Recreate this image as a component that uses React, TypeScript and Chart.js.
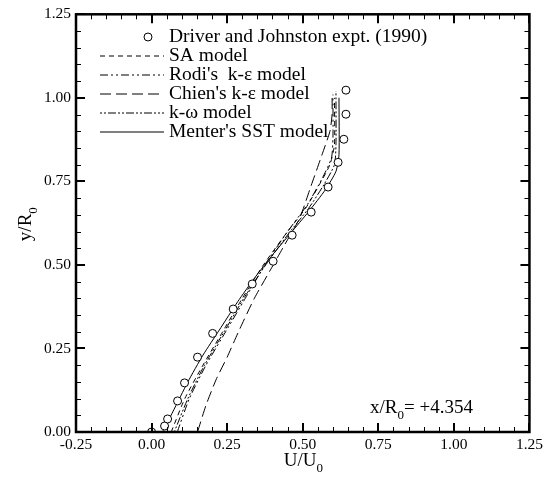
import React, { useEffect, useRef } from "react";
import { Chart, registerables } from "chart.js";

Chart.register(...registerables);

// Experimental data (Driver and Johnston, 1990)
const exptU = [0.0, 0.043, 0.053, 0.086, 0.109, 0.152, 0.202, 0.27, 0.333, 0.402, 0.465, 0.528, 0.584, 0.617, 0.636, 0.643, 0.643];
const exptY = [0.0, 0.018, 0.039, 0.093, 0.147, 0.224, 0.295, 0.368, 0.443, 0.511, 0.589, 0.658, 0.733, 0.807, 0.876, 0.951, 1.023];

// Model predictions
const saU = [0.065, 0.11, 0.17, 0.235, 0.3, 0.37, 0.45, 0.51, 0.555, 0.59, 0.605, 0.605];
const saY = [0.0, 0.1, 0.2, 0.3, 0.4, 0.5, 0.6, 0.67, 0.74, 0.8, 0.86, 1.0];

const rodiU = [0.085, 0.125, 0.18, 0.245, 0.31, 0.375, 0.45, 0.515, 0.565, 0.595, 0.6, 0.6];
const rodiY = [0.0, 0.1, 0.2, 0.3, 0.4, 0.5, 0.6, 0.68, 0.76, 0.82, 0.88, 1.01];

const chienU = [0.152, 0.18, 0.215, 0.25, 0.29, 0.34, 0.39, 0.44, 0.49, 0.525, 0.56, 0.59, 0.597, 0.597];
const chienY = [0.0, 0.08, 0.16, 0.224, 0.305, 0.4, 0.48, 0.56, 0.64, 0.73, 0.82, 0.9, 0.95, 1.015];

const kwU = [0.075, 0.12, 0.175, 0.24, 0.305, 0.37, 0.45, 0.52, 0.57, 0.605, 0.61, 0.61];
const kwY = [0.0, 0.1, 0.2, 0.3, 0.4, 0.49, 0.59, 0.67, 0.74, 0.8, 0.86, 1.02];

const sstU = [0.036, 0.07, 0.12, 0.17, 0.224, 0.285, 0.34, 0.4, 0.46, 0.52, 0.575, 0.61, 0.62, 0.62];
const sstY = [0.0, 0.06, 0.15, 0.23, 0.305, 0.39, 0.46, 0.53, 0.595, 0.66, 0.725, 0.78, 0.83, 1.0];

const legendLabels = [
  "Driver and Johnston expt. (1990)",
  "SA model",
  "Rodi's  k-\u03b5 model",
  "Chien's k-\u03b5 model",
  "k-\u03c9 model",
  "Menter's SST model",
];

const xTickValues = [-0.25, 0.0, 0.25, 0.5, 0.75, 1.0, 1.25];
const yTickValues = [0.0, 0.25, 0.5, 0.75, 1.0, 1.25];

const SERIF = "'Liberation Serif', 'DejaVu Serif', serif";

const pts = (u: number[], y: number[]) => u.map((v, i) => ({ x: v, y: y[i] }));

// Draw text with a subscript, e.g. "U/U" + "0", with an optional tail
function subText(ctx: CanvasRenderingContext2D, x: number, y: number, main: string, sub: string, size: number, tail = "") {
  ctx.font = `${size}px ${SERIF}`;
  ctx.fillText(main, x, y);
  let w = ctx.measureText(main).width;
  ctx.font = `${Math.round(size * 0.7)}px ${SERIF}`;
  ctx.fillText(sub, x + w, y + size * 0.3);
  w += ctx.measureText(sub).width;
  if (tail) {
    ctx.font = `${size}px ${SERIF}`;
    ctx.fillText(tail, x + w, y);
  }
}

const framePlugin = {
  id: "frame",
  afterDatasetsDraw(chart: any) {
    const { ctx, chartArea: a, scales } = chart;
    const xs = scales.x;
    const ys = scales.y;
    ctx.save();
    ctx.strokeStyle = "#000";
    ctx.fillStyle = "#000";

    // minor ticks every 0.05, pointing inward on all four sides
    ctx.lineWidth = 1;
    for (let i = 0; i <= 30; i++) {
      const v = -0.25 + i * 0.05;
      const px = Math.round(xs.getPixelForValue(v)) + 0.5;
      ctx.beginPath();
      ctx.moveTo(px, a.bottom);
      ctx.lineTo(px, a.bottom - 5);
      ctx.moveTo(px, a.top);
      ctx.lineTo(px, a.top + 5);
      ctx.stroke();
    }
    for (let i = 0; i <= 25; i++) {
      const v = i * 0.05;
      const py = Math.round(ys.getPixelForValue(v)) + 0.5;
      ctx.beginPath();
      ctx.moveTo(a.left, py);
      ctx.lineTo(a.left + 5, py);
      ctx.moveTo(a.right, py);
      ctx.lineTo(a.right - 5, py);
      ctx.stroke();
    }
    // major ticks
    ctx.lineWidth = 2;
    xTickValues.forEach((v) => {
      const px = Math.round(xs.getPixelForValue(v));
      ctx.beginPath();
      ctx.moveTo(px, a.bottom);
      ctx.lineTo(px, a.bottom - 9);
      ctx.moveTo(px, a.top);
      ctx.lineTo(px, a.top + 9);
      ctx.stroke();
    });
    yTickValues.forEach((v) => {
      const py = Math.round(ys.getPixelForValue(v));
      ctx.beginPath();
      ctx.moveTo(a.left, py);
      ctx.lineTo(a.left + 9, py);
      ctx.moveTo(a.right, py);
      ctx.lineTo(a.right - 9, py);
      ctx.stroke();
    });
    // frame
    ctx.lineWidth = 2.5;
    ctx.strokeRect(a.left, a.top, a.right - a.left, a.bottom - a.top);

    // axis titles
    ctx.textBaseline = "alphabetic";
    ctx.textAlign = "left";
    subText(ctx, (a.left + a.right) / 2 - 19, 466, "U/U", "0", 19);
    ctx.save();
    ctx.translate(31, (a.top + a.bottom) / 2 + 18);
    ctx.rotate(-Math.PI / 2);
    subText(ctx, 0, 0, "y/R", "0", 19);
    ctx.restore();

    // station annotation
    subText(ctx, 370, 413, "x/R", "0", 19, "= +4.354");

    // legend
    const ds = chart.data.datasets;
    const rowTop = 37;
    const rowGap = 19;
    const textX = 169;
    ctx.textBaseline = "middle";
    legendLabels.forEach((label, i) => {
      const yy = rowTop + i * rowGap;
      const d = ds[i];
      ctx.strokeStyle = "#000";
      ctx.lineWidth = 1;
      if (i === 0) {
        ctx.setLineDash([]);
        ctx.beginPath();
        ctx.arc(148, yy, 4, 0, Math.PI * 2);
        ctx.fillStyle = "#fff";
        ctx.fill();
        ctx.stroke();
      } else {
        ctx.setLineDash(d.borderDash || []);
        ctx.beginPath();
        ctx.moveTo(100, yy);
        ctx.lineTo(164, yy);
        ctx.stroke();
        ctx.setLineDash([]);
      }
      ctx.fillStyle = "#000";
      ctx.font = `19.5px ${SERIF}`;
      ctx.fillText(label, textX, yy);
    });
    ctx.restore();
  },
};

export default function App() {
  const canvasRef = useRef<HTMLCanvasElement | null>(null);

  useEffect(() => {
    const canvas = canvasRef.current;
    if (!canvas) return;
    const lineDs = (label: string, u: number[], y: number[], dash: number[]) => ({
      label,
      data: pts(u, y),
      showLine: true,
      borderColor: "#000",
      borderWidth: 1,
      borderDash: dash,
      pointRadius: 0,
      fill: false,
      tension: 0.2,
    });
    const chart = new Chart(canvas, {
      type: "scatter",
      data: {
        datasets: [
          {
            label: legendLabels[0],
            data: pts(exptU, exptY),
            showLine: false,
            pointStyle: "circle",
            pointRadius: 4,
            borderColor: "#000",
            borderWidth: 1,
            backgroundColor: "#fff",
            order: -1,
          } as any,
          lineDs(legendLabels[1], saU, saY, [5, 4]),
          lineDs(legendLabels[2], rodiU, rodiY, [8, 3, 2, 3, 2, 3]),
          lineDs(legendLabels[3], chienU, chienY, [11, 5]),
          lineDs(legendLabels[4], kwU, kwY, [2, 2, 2, 2, 8, 2]),
          lineDs(legendLabels[5], sstU, sstY, []),
        ],
      },
      options: {
        responsive: false,
        animation: false,
        layout: { padding: { left: 0, right: 16, top: 14, bottom: 0 } },
        plugins: { legend: { display: false }, tooltip: { enabled: false } },
        scales: {
          x: {
            type: "linear",
            min: -0.25,
            max: 1.25,
            grid: { display: false, drawTicks: false },
            border: { display: false },
            afterFit: (s: any) => {
              s.height = 47;
            },
            afterBuildTicks: (s: any) => {
              s.ticks = xTickValues.map((v) => ({ value: v }));
            },
            ticks: {
              padding: 4,
              color: "#000",
              font: { family: SERIF, size: 15.5 },
              maxRotation: 0,
              callback: (v: any) => Number(v).toFixed(2),
            },
          },
          y: {
            type: "linear",
            min: 0,
            max: 1.25,
            grid: { display: false, drawTicks: false },
            border: { display: false },
            afterFit: (s: any) => {
              s.width = 76;
            },
            afterBuildTicks: (s: any) => {
              s.ticks = yTickValues.map((v) => ({ value: v }));
            },
            ticks: {
              padding: 5,
              color: "#000",
              font: { family: SERIF, size: 15.5 },
              callback: (v: any) => Number(v).toFixed(2),
            },
          },
        },
      },
      plugins: [framePlugin],
    });
    return () => chart.destroy();
  }, []);

  return (
    <div style={{ position: "fixed", left: 0, top: 0, width: 547, height: 479, background: "#fff" }}>
      <canvas ref={canvasRef} width={547} height={479} style={{ display: "block" }} />
    </div>
  );
}
